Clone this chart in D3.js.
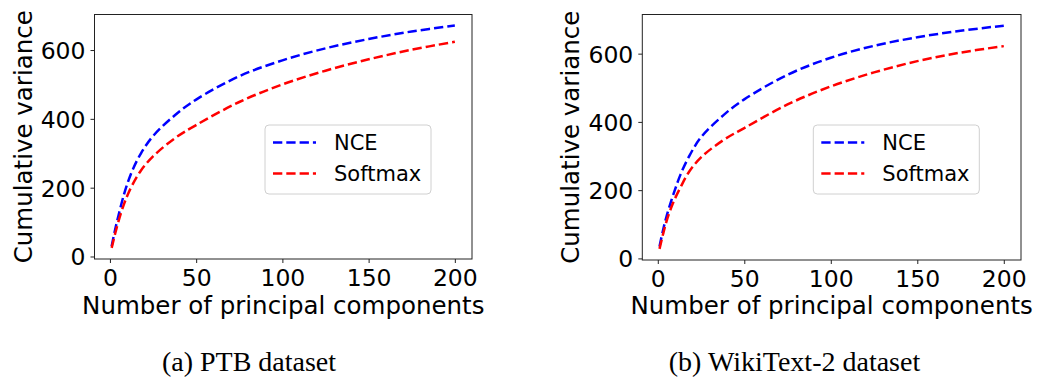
<!DOCTYPE html>
<html>
<head>
<meta charset="utf-8">
<script src="https://cdn.jsdelivr.net/npm/d3@7"></script>
<style>
  html, body { margin: 0; padding: 0; background: #fff; }
  svg { display: block; }
</style>
</head>
<body>
<svg id="chart" width="1043" height="381"></svg>
<script>
// ---- data ----
const components  = [1, 3, 5, 8, 10, 13, 18, 25, 38, 50, 75, 100, 125, 150, 175, 200];
const ptbNCE      = [30, 78, 120, 178, 210, 250, 300, 350, 412, 456, 524, 570, 605, 632, 654, 671];
const ptbSoftmax  = [25, 66, 103, 150, 176, 208, 250, 291, 345, 382, 449, 500, 540, 573, 601, 624];
const wikiNCE     = [35, 82, 122, 172, 202, 244, 298, 355, 420, 466, 538, 588, 623, 648, 667, 682];
const wikiSoftmax = [28, 70, 108, 152, 176, 207, 253, 296, 347, 382, 451, 504, 545, 578, 603, 622];
const xTicks = [0, 50, 100, 150, 200];
const yTicks = [0, 200, 400, 600];
const seriesNames = ["NCE", "Softmax"];
const seriesColors = ["#0000ff", "#ff0000"];
const captions = ["(a) PTB dataset", "(b) WikiText-2 dataset"];

const panels = [
  { left: 94.5, right: 472, top: 14.5, bottom: 259, series: [ptbNCE, ptbSoftmax], caption: captions[0], capX: 249,
    ylabX: 31.5, legend: { x: 265, y: 125, w: 166, h: 69 } },
  { left: 642.3, right: 1021, top: 14.5, bottom: 260, series: [wikiNCE, wikiSoftmax], caption: captions[1], capX: 794.5,
    ylabX: 579, legend: { x: 813.3, y: 125, w: 166, h: 69 } }
];

const svg = d3.select("#chart");
const sans = "DejaVu Sans, sans-serif";

panels.forEach(p => {
  const all = p.series.flat();
  const ymin = d3.min(all), ymax = d3.max(all);
  const ypad = 0.05 * (ymax - ymin);
  const xpad = 0.05 * (200 - 1);
  const x = d3.scaleLinear().domain([1 - xpad, 200 + xpad]).range([p.left, p.right]);
  const y = d3.scaleLinear().domain([ymin - ypad, ymax + ypad]).range([p.bottom, p.top]);

  const g = svg.append("g");

  // lines
  const line = d3.line().x((d, i) => x(components[i])).y(d => y(d)).curve(d3.curveCatmullRom.alpha(0.5));
  p.series.forEach((s, k) => {
    g.append("path").datum(s)
      .attr("d", line)
      .attr("fill", "none")
      .attr("stroke", seriesColors[k])
      .attr("stroke-width", 2.5)
      .attr("stroke-dasharray", "9.3,4");
  });

  // axes
  const xAxis = d3.axisBottom(x).tickValues(xTicks).tickSize(4).tickPadding(4);
  const gx = g.append("g").attr("transform", `translate(0,${p.bottom})`).call(xAxis);
  gx.select(".domain").remove();
  gx.selectAll("line").attr("stroke", "#222").attr("stroke-width", 1);
  gx.selectAll("text").attr("font-family", sans).attr("font-size", 23.5).attr("fill", "#000")
    .attr("dy", null).attr("y", 27);

  const yAxis = d3.axisLeft(y).tickValues(yTicks).tickSize(4).tickPadding(5);
  const gy = g.append("g").attr("transform", `translate(${p.left},0)`).call(yAxis);
  gy.select(".domain").remove();
  gy.selectAll("line").attr("stroke", "#222").attr("stroke-width", 1);
  gy.selectAll("text").attr("font-family", sans).attr("font-size", 23.5).attr("fill", "#000")
    .attr("dy", "0.36em");

  // frame
  g.append("rect")
    .attr("x", p.left).attr("y", p.top)
    .attr("width", p.right - p.left).attr("height", p.bottom - p.top)
    .attr("fill", "none").attr("stroke", "#222").attr("stroke-width", 1);

  // axis labels
  g.append("text")
    .attr("x", (p.left + p.right) / 2).attr("y", 314)
    .attr("text-anchor", "middle")
    .attr("font-family", sans).attr("font-size", 24.5)
    .text("Number of principal components");
  g.append("text")
    .attr("transform", `translate(${p.ylabX},${(p.top + p.bottom) / 2}) rotate(-90)`)
    .attr("text-anchor", "middle")
    .attr("font-family", sans).attr("font-size", 24.5)
    .text("Cumulative variance");

  // legend
  const L = p.legend;
  const lg = g.append("g");
  lg.append("rect")
    .attr("x", L.x).attr("y", L.y).attr("width", L.w).attr("height", L.h)
    .attr("rx", 4).attr("fill", "#fff").attr("fill-opacity", 0.8)
    .attr("stroke", "#d0d0d0").attr("stroke-width", 1);
  seriesNames.forEach((name, k) => {
    const yy = L.y + 17.5 + k * 31;
    lg.append("line")
      .attr("x1", L.x + 8).attr("x2", L.x + 51)
      .attr("y1", yy).attr("y2", yy)
      .attr("stroke", seriesColors[k]).attr("stroke-width", 2.5)
      .attr("stroke-dasharray", "9.3,4");
    lg.append("text")
      .attr("x", L.x + 69).attr("y", yy).attr("dy", "0.36em")
      .attr("font-family", sans).attr("font-size", 21)
      .text(name);
  });

  // caption
  svg.append("text")
    .attr("x", p.capX).attr("y", 371)
    .attr("text-anchor", "middle")
    .attr("font-family", "Liberation Serif, serif").attr("font-size", 28)
    .text(p.caption);
});
</script>
</body>
</html>
